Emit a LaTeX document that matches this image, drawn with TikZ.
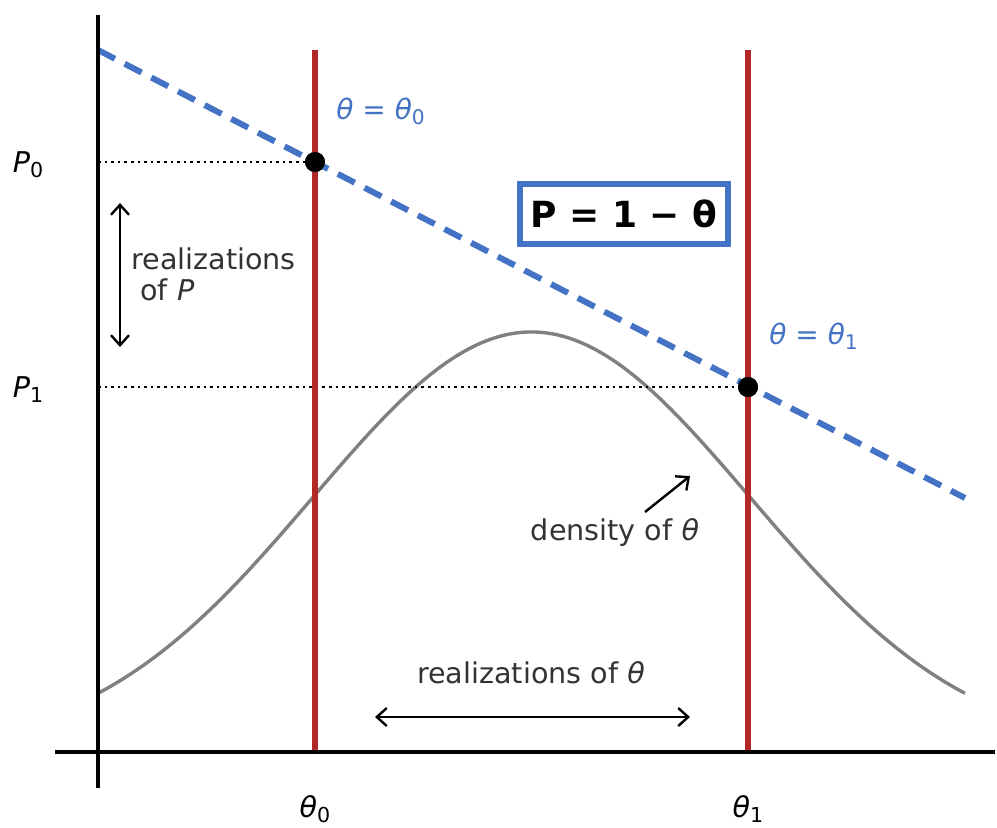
\documentclass[tikz,border=0pt]{standalone}
\usepackage{fontspec}
\setmainfont{DejaVu Sans}
\usetikzlibrary{arrows.meta}
\definecolor{redl}{RGB}{178,40,40}
\definecolor{bluel}{RGB}{68,114,196}
\definecolor{txt}{RGB}{51,51,51}
\newcommand{\msub}[1]{\raisebox{-0.2em}{\scalebox{0.72}{#1}}}
\newcommand{\mth}{\textit{θ}}
\tikzset{
  axisline/.style={line width=1.7pt, black},
  redline/.style={line width=3pt, redl},
  blueline/.style={line width=3pt, bluel, dash pattern=on 9.5pt off 5.5pt},
  dotline/.style={line width=1.4pt, black, dash pattern=on 1.3pt off 2pt},
  density/.style={line width=1.7pt, gray},
  annot/.style={font=\fontsize{14.3}{15.5}\selectfont, text=txt, inner sep=0pt},
  ticklab/.style={font=\fontsize{14.3}{16}\selectfont, text=black, inner sep=0pt, anchor=base},
  bluelab/.style={font=\fontsize{14}{16}\selectfont, text=bluel, inner sep=0pt, anchor=base west},
  dbl/.style={line width=1.2pt, black, {Straight Barb[length=5pt,width=9pt]}-{Straight Barb[length=5pt,width=9pt]}},
  sgl/.style={line width=1.2pt, black, -{Straight Barb[length=5pt,width=9pt]}},
  pt/.style={circle, fill=black, inner sep=0pt, minimum size=10pt},
  formula/.style={draw=bluel, line width=2.6pt, fill=white, font=\fontsize{18}{22}\selectfont\bfseries, inner xsep=5pt, inner ysep=5pt, minimum width=104pt, minimum height=30pt}
}
\begin{document}
\begin{tikzpicture}[x=0.5pt,y=-0.5pt]
\useasboundingbox (0,0) rectangle (997,827);
% coordinates
\coordinate (ytop) at (98,15);
\coordinate (ybot) at (98,788);
\coordinate (xl) at (55,752);
\coordinate (xr) at (995,752);
\coordinate (r0t) at (315,50);
\coordinate (r0b) at (315,752);
\coordinate (r1t) at (748,50);
\coordinate (r1b) at (748,752);
\coordinate (bl0) at (98,50);
\coordinate (bl1) at (965,498);
\coordinate (p0a) at (98,162);
\coordinate (p1a) at (98,387);
% density
\draw[density] plot[domain=98:965, samples=120, smooth] (\x, {752-420*exp(-0.5*((\x-531.5)/218.5)^2)});
% points (placed for connectors)
\node[pt] (d0) at (315,162) {};
\node[pt] (d1) at (748,387) {};
\draw[dotline] (p0a) -- (d0.center);
\draw[dotline] (p1a) -- (d1.center);
% red verticals
\draw[redline] (r0t) -- (r0b);
\draw[redline] (r1t) -- (r1b);
% blue dashed
\draw[blueline] (bl0) -- (bl1);
% points on top
\node[pt] at (d0) {};
\node[pt] at (d1) {};
% axes
\draw[axisline] (xl) -- (xr);
\draw[axisline] (ytop) -- (ybot);
% labels
\node[ticklab] (lp0) at (28,172) {\textit{P}\msub{0}};
\node[ticklab] (lp1) at (28,397) {\textit{P}\msub{1}};
\node[ticklab] (lt0) at (315,817) {\mth\msub{0}};
\node[ticklab] (lt1) at (748,817) {\mth\msub{1}};
\node[bluelab] (eq0) at (336,119) {\mth{} = \mth\msub{0}};
\node[bluelab] (eq1) at (769,344) {\mth{} = \mth\msub{1}};
\node[formula] (box) at (624,214) {P = 1 − θ};
% realizations of P
\coordinate (ra) at (120,203);
\coordinate (rb) at (120,347);
\draw[dbl] (ra) -- (rb);
\node[annot, anchor=west, align=left] (rp) at (131,274) {realizations\\\ of \textit{P}};
% density label
\node[annot] (dl) at (615,532) {density of \mth};
\coordinate (da) at (645,512);
\coordinate (db) at (690,476);
\draw[sgl] (da) -- (db);
% realizations of theta
\node[annot] (rt) at (531,673) {realizations of \mth};
\coordinate (ta) at (375,717);
\coordinate (tb) at (690,717);
\draw[dbl] (ta) -- (tb);
\end{tikzpicture}
\end{document}
